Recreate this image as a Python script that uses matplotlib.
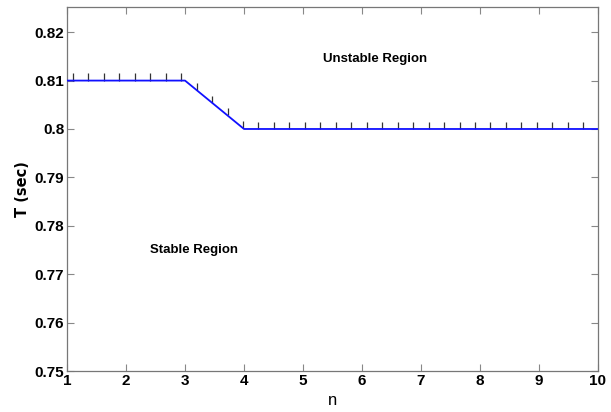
import numpy as np
import matplotlib
matplotlib.use("Agg")
import matplotlib.pyplot as plt
from matplotlib import font_manager

# Boundary between stable and unstable regions
n_vals = [1, 3, 4, 10]
T_vals = [0.81, 0.81, 0.80, 0.80]

x_ticks = [1, 2, 3, 4, 5, 6, 7, 8, 9, 10]
y_ticks = [0.75, 0.76, 0.77, 0.78, 0.79, 0.80, 0.81, 0.82]
y_tick_labels = ["0.75", "0.76", "0.77", "0.78", "0.79", "0.8", "0.81", "0.82"]

names = {f.name for f in font_manager.fontManager.ttflist}
fam = ["Liberation Sans Narrow", "Liberation Sans", "DejaVu Sans"]
fam = [f for f in fam if f in names] or ["DejaVu Sans"]
plt.rcParams["font.family"] = fam

fig = plt.figure(figsize=(6.11, 4.12), dpi=100)
ax = fig.add_axes([0.1097, 0.0995, 0.869, 0.8835])

ax.plot(n_vals, T_vals, color="#1010ff", lw=1.3, zorder=3)

# hatch marks on the unstable side of the boundary
hx = np.linspace(1.1, 9.75, 34)
hy = np.interp(hx, n_vals, T_vals)
ax.vlines(hx, hy, hy + 0.0015, color="#333333", lw=0.9, zorder=2)

ax.set_xlim(1, 10)
ax.set_ylim(0.75, 0.8252)
ax.set_xticks(x_ticks)
ax.set_xticklabels([str(v) for v in x_ticks])
ax.set_yticks(y_ticks)
ax.set_yticklabels(y_tick_labels)
ax.tick_params(direction="in", top=True, right=True, length=5, width=0.8,
               color="#888888", labelsize=11, pad=2)
for lbl in ax.get_xticklabels() + ax.get_yticklabels():
    lbl.set_fontweight("bold")
for s in ax.spines.values():
    s.set_color("#777777")
    s.set_linewidth(0.9)

ax.text(6.22, 0.8144, "Unstable Region", ha="center", va="center",
        fontsize=9.5, fontweight="bold")
ax.text(3.15, 0.775, "Stable Region", ha="center", va="center",
        fontsize=9.5, fontweight="bold")

ax.set_xlabel("n", fontsize=12, labelpad=4)
ax.set_ylabel("T (sec)", fontsize=10.5, fontweight="bold", labelpad=3,
              family=["DejaVu Sans"])

fig.savefig("out.png", dpi=100)
